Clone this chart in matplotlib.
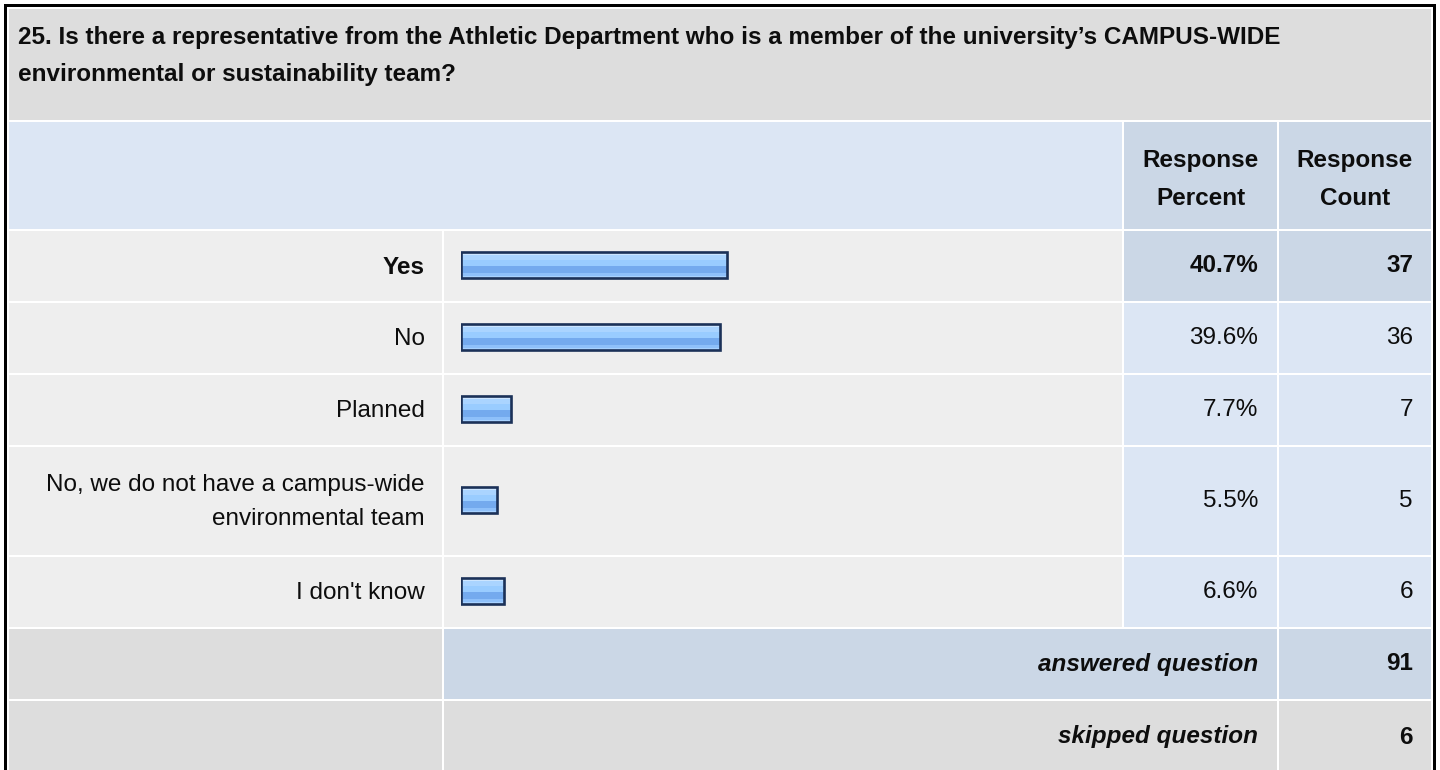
import numpy as np
import matplotlib
matplotlib.use('Agg')
from matplotlib import pyplot as plt
from matplotlib.patches import Rectangle

plt.rcParams['font.family'] = ['Liberation Sans', 'DejaVu Sans']

# survey data
question = ("25. Is there a representative from the Athletic Department who is a member of the university\u2019s CAMPUS-WIDE\n"
            "environmental or sustainability team?")
answers = ['Yes', 'No', 'Planned', 'No, we do not have a campus-wide\nenvironmental team', "I don't know"]
percents = [40.7, 39.6, 7.7, 5.5, 6.6]
counts = [37, 36, 7, 5, 6]
answered = 91
skipped = 6

# layout in pixels (figure is 1440 x 770)
W, H = 1440, 770
col_label = (9, 442)
col_bar = (444, 1122)
col_pct = (1124, 1277)
col_cnt = (1279, 1431)
title_rows = (9, 120)
header_rows = (122, 229)
answer_rows = [(231, 301), (303, 373), (375, 445), (447, 555), (557, 627)]
answered_rows = (629, 699)
skipped_rows = (701, 770)

GRAY = '#dddddd'
LIGHT = '#eeeeee'
BLUE = '#dce6f4'
DBLUE = '#cbd7e6'
TXT = '#0d0d0d'
FS = 17.5

fig = plt.figure(figsize=(W / 100, H / 100), dpi=100)
fig.patch.set_facecolor('white')
ax = fig.add_axes([0, 0, 1, 1])
ax.set_xlim(0, W)
ax.set_ylim(H, 0)
ax.axis('off')


def cell(cols, rows, color):
    ax.add_patch(Rectangle((cols[0], rows[0]), cols[1] - cols[0], rows[1] - rows[0],
                           facecolor=color, edgecolor='none', zorder=1))


def mid(r):
    return (r[0] + r[1]) / 2


# outer border
ax.add_patch(Rectangle((4, 4), 3, H, facecolor='black', edgecolor='none'))
ax.add_patch(Rectangle((4, 4), 1433 - 4, 3, facecolor='black', edgecolor='none'))
ax.add_patch(Rectangle((1433, 4), 3, H, facecolor='black', edgecolor='none'))

# title
cell((col_label[0], col_cnt[1]), title_rows, GRAY)
ax.text(18, 56, question, ha='left', va='center', fontsize=FS,
        fontweight='bold', color=TXT, linespacing=1.75, zorder=5)

# header
cell((col_label[0], col_bar[1]), header_rows, BLUE)
cell(col_pct, header_rows, DBLUE)
cell(col_cnt, header_rows, DBLUE)
ax.text(mid(col_pct), mid(header_rows) + 4, 'Response\nPercent', ha='center', va='center',
        fontsize=FS, fontweight='bold', color=TXT, linespacing=1.8, zorder=5)
ax.text(mid(col_cnt), mid(header_rows) + 4, 'Response\nCount', ha='center', va='center',
        fontsize=FS, fontweight='bold', color=TXT, linespacing=1.8, zorder=5)

top = int(np.argmax(percents))
centers = [mid(r) for r in answer_rows]
for i, (lab, p, c, r) in enumerate(zip(answers, percents, counts, answer_rows)):
    hi = i == top
    cell(col_label, r, LIGHT)
    cell(col_bar, r, LIGHT)
    cell(col_pct, r, DBLUE if hi else BLUE)
    cell(col_cnt, r, DBLUE if hi else BLUE)
    w = 'bold' if hi else 'normal'
    ax.text(425, mid(r) + 1, lab, ha='right', va='center', fontsize=FS, fontweight=w,
            color=TXT, linespacing=1.7, zorder=5)
    ax.text(col_pct[1] - 19, mid(r), f'{p:.1f}%', ha='right', va='center', fontsize=FS,
            fontweight=w, color=TXT, zorder=5)
    ax.text(col_cnt[1] - 18, mid(r), str(c), ha='right', va='center', fontsize=FS,
            fontweight=w, color=TXT, zorder=5)

# summary rows
cell(col_label, answered_rows, GRAY)
cell((col_bar[0], col_pct[1]), answered_rows, DBLUE)
cell(col_cnt, answered_rows, DBLUE)
cell(col_label, skipped_rows, GRAY)
cell((col_bar[0], col_pct[1]), skipped_rows, GRAY)
cell(col_cnt, skipped_rows, GRAY)
for lab, val, yc in [('answered question', answered, mid(answered_rows)),
                     ('skipped question', skipped, 737)]:
    ax.text(col_pct[1] - 19, yc, lab, ha='right', va='center', fontsize=FS,
            fontweight='bold', fontstyle='italic', color=TXT, zorder=5)
    ax.text(col_cnt[1] - 18, yc, str(val), ha='right', va='center', fontsize=FS,
            fontweight='bold', color=TXT, zorder=5)

# bars: 0-100 % mapped across the bar column
bax = fig.add_axes([461 / W, 0, 654 / W, 1])
bax.set_xlim(0, 100)
bax.set_ylim(H, 0)
bax.axis('off')
bax.patch.set_alpha(0)

grad_cols = (['#cce5ff'] * 3 + ['#aad4ff'] * 4 + ['#99ccff'] * 6 +
             ['#74aaee'] * 6 + ['#8ec0fa'] * 3 + ['#a8d2ff'] * 2)
grad = np.array([matplotlib.colors.to_rgb(c) for c in grad_cols])[:, None, :]

bars = bax.barh([c - 1 for c in centers], percents, height=26, color='none',
                edgecolor='#1b3158', linewidth=1.9, zorder=3)
for b in bars:
    x0, y0, bw, bh = b.get_x(), b.get_y(), b.get_width(), b.get_height()
    bax.imshow(grad, extent=[x0, x0 + bw, y0 + bh, y0], aspect='auto',
               interpolation='nearest', zorder=2)
bax.set_xlim(0, 100)
bax.set_ylim(H, 0)

fig.savefig('out.png', dpi=100, facecolor='white')
